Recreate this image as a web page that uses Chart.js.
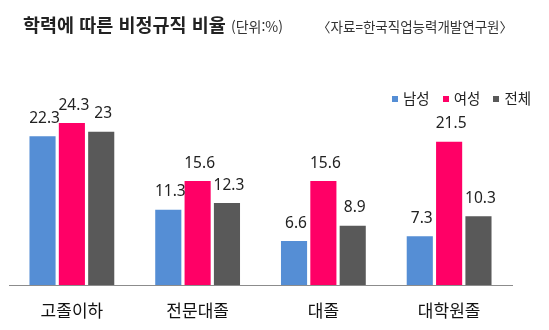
<!DOCTYPE html>
<html lang="ko">
<head>
    <meta charset="UTF-8">
    <title>학력에 따른 비정규직 비율</title>
    <script src="https://cdn.jsdelivr.net/npm/chart.js"></script>
    <style>
        body { margin: 0; background: #fff; font-family: "Noto Sans CJK KR", sans-serif; }
        #wrap { position: relative; width: 549px; height: 330px; }
        #title { position: absolute; left: 23px; top: 11px; font-size: 18.5px; font-weight: bold; color: #222; white-space: nowrap; }
        #title small { font-size: 14px; font-weight: normal; color: #333; }
        #source { position: absolute; right: 36px; top: 16px; font-size: 13.5px; color: #333; white-space: nowrap; }
        #legend { position: absolute; left: 392px; top: 87px; font-size: 14.5px; color: #222; white-space: nowrap; }
        #legend span.box { display: inline-block; width: 6px; height: 6px; margin-right: 5px; vertical-align: 2px; }
        #legend span.item { margin-right: 13px; }
        canvas { position: absolute; left: 0; top: 0; }
    </style>
</head>
<body>
<div id="wrap">
    <canvas id="myChart" width="549" height="330"></canvas>
    <div id="title">학력에 따른 비정규직 비율 <small>(단위:%)</small></div>
    <div id="source">〈자료=한국직업능력개발연구원〉</div>
    <div id="legend"></div>
</div>

<script>
    const categories = ['고졸이하', '전문대졸', '대졸', '대학원졸'];
    const seriesNames = ['남성', '여성', '전체'];
    const male = [22.3, 11.3, 6.6, 7.3];
    const female = [24.3, 15.6, 15.6, 21.5];
    const total = [23, 12.3, 8.9, 10.3];
    const colors = ['#558ed5', '#ff0066', '#595959'];

    // legend in html, sits inside the plot area on the right
    const legend = document.getElementById('legend');
    seriesNames.forEach(function (name, i) {
        legend.innerHTML += '<span class="item"><span class="box" style="background:' + colors[i] + '"></span>' + name + '</span>';
    });

    // value labels above each bar
    const valueLabels = {
        id: 'valueLabels',
        afterDatasetsDraw(chart) {
            const ctx = chart.ctx;
            ctx.save();
            ctx.font = '15.5px "Noto Sans", sans-serif';
            ctx.fillStyle = '#222';
            ctx.textAlign = 'center';
            ctx.textBaseline = 'bottom';
            chart.data.datasets.forEach(function (ds, i) {
                chart.getDatasetMeta(i).data.forEach(function (bar, j) {
                    ctx.fillText(String(ds.data[j]), bar.x + 2, bar.y - 10);
                });
            });
            ctx.restore();
        }
    };

    const ctx = document.getElementById('myChart').getContext('2d');
    const dataSets = [male, female, total].map(function (values, i) {
        return {
            label: seriesNames[i],
            data: values,
            backgroundColor: colors[i],
            categoryPercentage: 0.7,
            barPercentage: 0.89
        };
    });

    new Chart(ctx, {
        type: 'bar',
        data: { labels: categories, datasets: dataSets },
        options: {
            responsive: false,
            animation: false,
            layout: { padding: { left: 9, right: 37, top: 85, bottom: 0 } },
            plugins: { legend: { display: false }, tooltip: { enabled: false } },
            scales: {
                x: {
                    grid: { display: false, drawTicks: false },
                    border: { color: '#8c8c8c', width: 1 },
                    ticks: {
                        color: '#111',
                        padding: 15,
                        font: { size: 17, family: '"Noto Sans CJK KR", sans-serif' }
                    },
                    // fixed axis band so the baseline lands at y = 285
                    afterFit(scale) { scale.height = 45; }
                },
                y: { display: false, min: 0, max: 30 }
            }
        },
        plugins: [valueLabels]
    });
</script>
</body>
</html>
